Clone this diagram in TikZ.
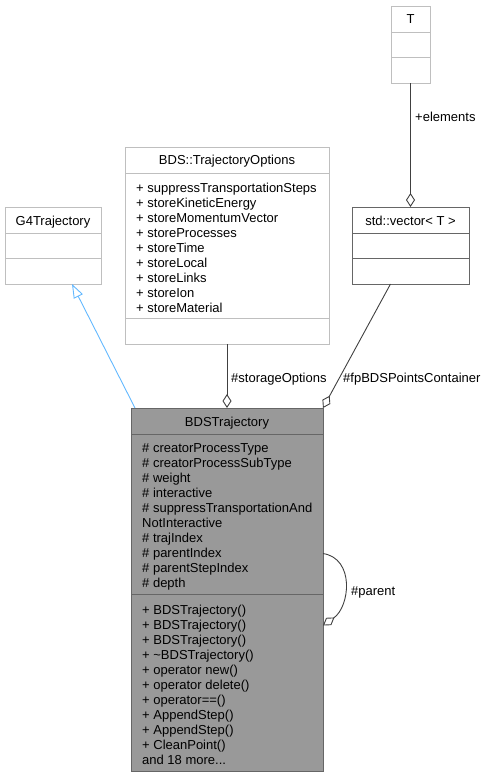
\documentclass[tikz,border=0pt]{standalone}
\usepackage{fontspec}
\setmainfont{Liberation Sans}
\usepackage{xcolor}
\usepackage{tikz}
\usetikzlibrary{arrows.meta}

\definecolor{lightframe}{HTML}{BFBFBF}
\definecolor{darkframe}{HTML}{666666}
\definecolor{bdsfill}{HTML}{999999}
\definecolor{edgegray}{HTML}{404040}
\definecolor{inheritblue}{HTML}{63B8FF}

\begin{document}
\begin{tikzpicture}[x=1pt, y=-1pt, font=\fontsize{13}{15}\selectfont,
		classbox/.style={draw=lightframe, line width=0.9pt, inner sep=0pt, outer sep=0pt},
		title/.style={anchor=mid, inner sep=0pt},
		member/.style={anchor=mid west, inner sep=0pt},
		edgelabel/.style={anchor=mid west, inner sep=0pt},
		aggr/.style={draw=edgegray, line width=0.9pt, -{Diamond[open, length=14pt, width=9pt]}},
		inherit/.style={draw=inheritblue, line width=0.9pt, -{Triangle[open, length=14pt, width=10pt]}}]
		\useasboundingbox (0,0) rectangle (489,777);

		% class boxes
		\node[classbox, minimum width=39pt, minimum height=77pt] (T) at (410.5,44.5) {};
		\draw[lightframe, line width=0.9pt] (391,32) -- (430,32);
		\draw[lightframe, line width=0.9pt] (391,57) -- (430,57);
		\node[title] (Ttitle) at (410.5,21) {T};

		\node[classbox, minimum width=96pt, minimum height=77pt] (g4) at (53,245.5) {};
		\draw[lightframe, line width=0.9pt] (5,233) -- (101,233);
		\draw[lightframe, line width=0.9pt] (5,258) -- (101,258);
		\node[title] (g4title) at (53,222.5) {G4Trajectory};

		\node[classbox, minimum width=204pt, minimum height=197pt] (opts) at (227,245.5) {};
		\draw[lightframe, line width=0.9pt] (125,173) -- (329,173);
		\draw[lightframe, line width=0.9pt] (125,318) -- (329,318);
		\node[title] (optstitle) at (227,162) {BDS::TrajectoryOptions};
		\foreach \m [count=\i] in {suppressTransportationSteps, storeKineticEnergy, storeMomentumVector,
			storeProcesses, storeTime, storeLocal, storeLinks, storeIon, storeMaterial}
		\node[member] (opts-m\i) at (136, 174.5+15*\i) {+ \m};

		\node[classbox, draw=darkframe, minimum width=117pt, minimum height=77pt] (vec) at (410.5,245.5) {};
		\draw[darkframe, line width=0.9pt] (352,233) -- (469,233);
		\draw[darkframe, line width=0.9pt] (352,258) -- (469,258);
		\node[title] (vectitle) at (410.5,222.5) {std::vector< T >};

		\node[classbox, draw=darkframe, fill=bdsfill, minimum width=192pt, minimum height=363pt] (bds) at (227,589.5) {};
		\draw[darkframe, line width=0.9pt] (131,434) -- (323,434);
		\draw[darkframe, line width=0.9pt] (131,594) -- (323,594);
		\node[title] (bdstitle) at (227,424) {BDSTrajectory};
		\foreach \m [count=\i] in {\# creatorProcessType, \# creatorProcessSubType, \# weight, \# interactive,
			\# suppressTransportationAnd, NotInteractive, \# trajIndex, \# parentIndex, \# parentStepIndex, \# depth}
		\node[member] (bds-a\i) at (142, 435.2+15*\i) {\m};
		\foreach \m [count=\i] in {BDSTrajectory(), BDSTrajectory(), BDSTrajectory(), \textasciitilde BDSTrajectory(),
			operator new(), operator delete(), operator==(), AppendStep(), AppendStep(), CleanPoint()}
		\node[member] (bds-f\i) at (142, 596.5+15*\i) {+ \m};
		\node[member] (bds-more) at (142, 761.5) {and 18 more...};

		% relations
		\draw[inherit] ([xshift=4pt]bds.north west) -- ([xshift=19pt]g4.south);
		\draw[aggr] (opts.south) -- (bds.north);
		\draw[aggr] ([xshift=-20pt]vec.south) -- (bds.north east);
		\draw[aggr] (T.south) -- (vec.north);
		\draw[aggr] ([yshift=36pt]bds.east) .. controls +(32,5) and +(27,-19) .. ([yshift=-36pt]bds.east);

		\node[edgelabel] (lblElements) at (415,118.5) {+elements};
		\node[edgelabel] (lblStorage) at (231,379.5) {\#storageOptions};
		\node[edgelabel] (lblPoints) at (343,379.5) {\#fpBDSPointsContainer};
		\node[edgelabel] (lblParent) at (351,592.5) {\#parent};
	\end{tikzpicture}
\end{document}
